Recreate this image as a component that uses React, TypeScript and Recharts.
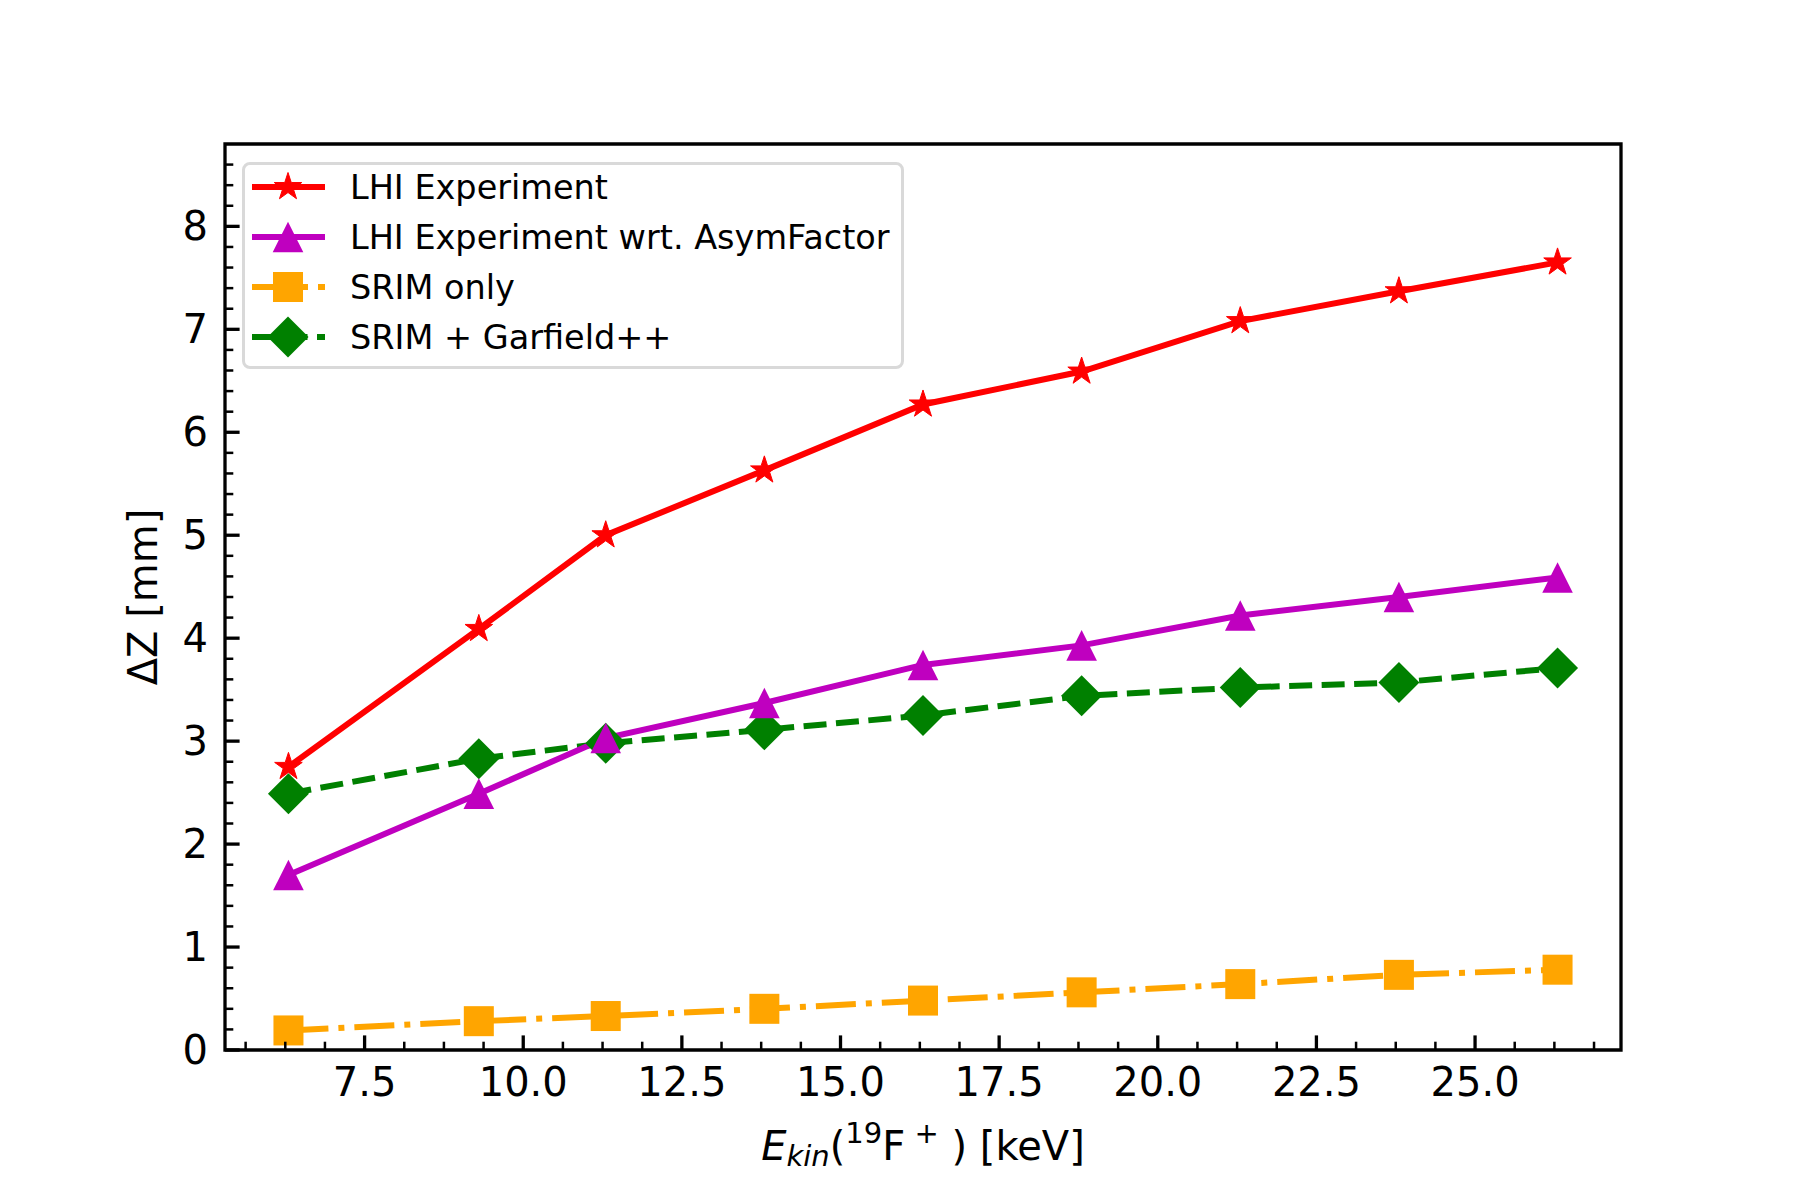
import React from 'react'
import { LineChart, Line, XAxis, YAxis, Legend, ReferenceArea } from 'recharts'

// beam energy E_kin in keV
const energies = [6.3, 9.3, 11.3, 13.8, 16.3, 18.8, 21.3, 23.8, 26.3]
const lhiExperiment = [2.75, 4.09, 5.0, 5.63, 6.27, 6.59, 7.08, 7.37, 7.65]
const lhiAsymFactor = [1.7, 2.49, 3.03, 3.37, 3.74, 3.93, 4.22, 4.4, 4.59]
const srimOnly = [0.19, 0.28, 0.33, 0.4, 0.48, 0.56, 0.64, 0.73, 0.78]
const srimGarfield = [2.49, 2.83, 2.98, 3.11, 3.25, 3.44, 3.52, 3.57, 3.71]

const xMajorTicks = [7.5, 10, 12.5, 15, 17.5, 20, 22.5, 25]
const yMajorTicks = [0, 1, 2, 3, 4, 5, 6, 7, 8]
const X_DOMAIN = [5.3, 27.3]
const Y_DOMAIN = [0, 8.8]

// minor ticks: 4 per major step on x, 5 per unit on y
const xTicks: number[] = []
for (let v = 5.625; v < X_DOMAIN[1]; v += 0.625) xTicks.push(v)
const yTicks: number[] = []
for (let i = 0; i <= 43; i++) yTicks.push(Math.round(i * 2) / 10)

const rows = energies.map((e, i) => ({
  e,
  lhi: lhiExperiment[i],
  asym: lhiAsymFactor[i],
  srim: srimOnly[i],
  garfield: srimGarfield[i],
}))

const FONT = '"DejaVu Sans", sans-serif'

type Marker = 'star' | 'triangle' | 'square' | 'diamond'

const SERIES: { key: string; label: string; color: string; dash?: string; marker: Marker }[] = [
  { key: 'lhi', label: 'LHI Experiment', color: '#ff0000', marker: 'star' },
  { key: 'asym', label: 'LHI Experiment wrt. AsymFactor', color: '#bf00bf', marker: 'triangle' },
  { key: 'srim', label: 'SRIM only', color: '#ffa500', dash: '40 10 6 10', marker: 'square' },
  { key: 'garfield', label: 'SRIM + Garfield++', color: '#008000', dash: '23 9.5', marker: 'diamond' },
]

function MarkerShape({ kind, cx, cy, color }: { kind: Marker; cx: number; cy: number; color: string }) {
  if (kind === 'star') {
    const pts: string[] = []
    for (let k = 0; k < 10; k++) {
      const r = k % 2 === 0 ? 14.5 : 14.5 * 0.382
      const a = (Math.PI / 5) * k - Math.PI / 2
      pts.push(`${cx + r * Math.cos(a)},${cy + r * Math.sin(a)}`)
    }
    return <polygon points={pts.join(' ')} fill={color} stroke={color} strokeWidth={1} />
  }
  if (kind === 'triangle') {
    const h = 15.3
    return <polygon points={`${cx},${cy - h} ${cx - h},${cy + h} ${cx + h},${cy + h}`} fill={color} />
  }
  if (kind === 'square') {
    return <rect x={cx - 15} y={cy - 15} width={30} height={30} fill={color} />
  }
  const d = 20.5
  return <polygon points={`${cx},${cy - d} ${cx + d},${cy} ${cx},${cy + d} ${cx - d},${cy}`} fill={color} />
}

function XTick(props: any) {
  const { x, y, payload } = props
  const major = xMajorTicks.includes(payload.value)
  return (
    <g>
      <line x1={x} x2={x} y1={y} y2={y - (major ? 14.6 : 8.3)} stroke="#000" strokeWidth={major ? 3.3 : 2.5} />
      {major && (
        <text x={x} y={y + 46} textAnchor="middle" fontSize={40} fontFamily={FONT} fill="#000">
          {payload.value.toFixed(1)}
        </text>
      )}
    </g>
  )
}

function YTick(props: any) {
  const { x, y, payload } = props
  const major = yMajorTicks.includes(payload.value)
  return (
    <g>
      <line x1={x} x2={x + (major ? 14.6 : 8.3)} y1={y} y2={y} stroke="#000" strokeWidth={major ? 3.3 : 2.5} />
      {major && (
        <text x={x - 17} y={y + 14} textAnchor="end" fontSize={40} fontFamily={FONT} fill="#000">
          {payload.value}
        </text>
      )}
    </g>
  )
}

function XTitle(props: any) {
  const vb = props.viewBox || { x: 225, y: 1050, width: 1396 }
  return (
    <text x={vb.x + vb.width / 2} y={vb.y + 110} textAnchor="middle" fontSize={40} fontFamily={FONT} fill="#000">
      <tspan fontStyle="italic">E</tspan>
      <tspan fontStyle="italic" fontSize={29} dy={6}>kin</tspan>
      <tspan dy={-6}>(</tspan>
      <tspan fontSize={29} dy={-17}>19</tspan>
      <tspan dy={17}>F</tspan>
      <tspan fontSize={29} dy={-17}> +</tspan>
      <tspan dy={17}> ) [keV]</tspan>
    </text>
  )
}

function YTitle(props: any) {
  const vb = props.viewBox || { x: 125, y: 144, height: 906 }
  const cx = vb.x + 32
  const cy = vb.y + vb.height / 2
  return (
    <text x={cx} y={cy} transform={`rotate(-90, ${cx}, ${cy})`} textAnchor="middle" fontSize={40} fontFamily={FONT} fill="#000">
      ΔZ [mm]
    </text>
  )
}

function LegendBox() {
  return (
    <div
      style={{
        width: 662,
        height: 207,
        boxSizing: 'border-box',
        border: '3px solid #d9d9d9',
        borderRadius: 8,
        background: 'rgba(255,255,255,0.8)',
        fontFamily: FONT,
        fontSize: 33.5,
        color: '#000',
      }}
    >
      <div style={{ marginTop: -3 }}>
        {SERIES.map(s => (
          <div key={s.key} style={{ height: 50, display: 'flex', alignItems: 'center' }}>
            <svg width={96} height={50} style={{ flex: 'none' }}>
              <line x1={7} x2={80} y1={25} y2={25} stroke={s.color} strokeWidth={6} strokeDasharray={s.dash} />
              <MarkerShape kind={s.marker} cx={43} cy={25} color={s.color} />
            </svg>
            <span style={{ marginLeft: 9, whiteSpace: 'nowrap' }}>{s.label}</span>
          </div>
        ))}
      </div>
    </div>
  )
}

const DRAW_ORDER = ['srim', 'garfield', 'lhi', 'asym']

export default function App() {
  return (
    <div style={{ position: 'absolute', left: 0, top: 0, width: 1800, height: 1200, background: '#fff' }}>
      <LineChart width={1800} height={1200} data={rows} margin={{ top: 144, right: 179, left: 125, bottom: 50 }}>
        <XAxis
          dataKey="e"
          type="number"
          domain={X_DOMAIN}
          allowDataOverflow
          ticks={xTicks}
          interval={0}
          tick={<XTick />}
          tickSize={0}
          tickMargin={0}
          tickLine={false}
          axisLine={false}
          height={100}
          label={{ content: XTitle }}
        />
        <YAxis
          type="number"
          domain={Y_DOMAIN}
          allowDataOverflow
          ticks={yTicks}
          interval={0}
          tick={<YTick />}
          tickSize={0}
          tickMargin={0}
          tickLine={false}
          axisLine={false}
          width={100}
          label={{ content: YTitle }}
        />
        <ReferenceArea
          x1={X_DOMAIN[0]}
          x2={X_DOMAIN[1]}
          y1={Y_DOMAIN[0]}
          y2={Y_DOMAIN[1]}
          fill="none"
          fillOpacity={0}
          stroke="#000"
          strokeWidth={3.3}
        />
        {DRAW_ORDER.map(k => {
          const s = SERIES.find(d => d.key === k)!
          return (
            <Line
              key={s.key}
              type="linear"
              dataKey={s.key}
              name={s.label}
              stroke={s.color}
              strokeWidth={6}
              strokeDasharray={s.dash}
              dot={(p: any) => <MarkerShape key={`${s.key}-${p.index}`} kind={s.marker} cx={p.cx} cy={p.cy} color={s.color} />}
              activeDot={false}
              isAnimationActive={false}
            />
          )
        })}
        <Legend
          layout="vertical"
          align="center"
          verticalAlign="middle"
          content={() => <LegendBox />}
          wrapperStyle={{ left: 242, top: 162, width: 662, height: 207 }}
        />
      </LineChart>
    </div>
  )
}
